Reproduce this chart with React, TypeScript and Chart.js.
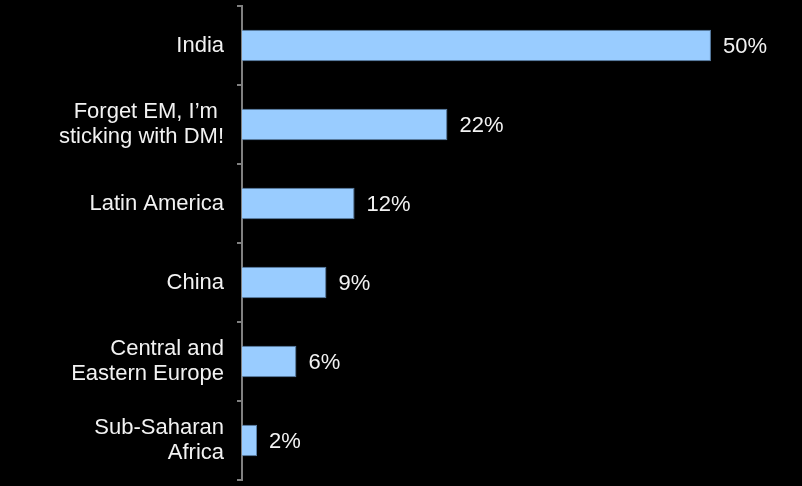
import React, { useEffect, useRef } from "react";
import { Chart, registerables } from "chart.js";

Chart.register(...registerables);

const categories: (string | string[])[] = [
  "India",
  ["Forget EM, I\u2019m ", "sticking with DM!"],
  "Latin America",
  "China",
  ["Central and", "Eastern Europe"],
  ["Sub-Saharan", "Africa"],
];
const values: number[] = [50, 21.9, 12, 9, 5.8, 1.6];
const valueLabels: string[] = ["50%", "22%", "12%", "9%", "6%", "2%"];

const FONT = "'Liberation Sans', Arial, sans-serif";
const TEXT = "#f2f2f2";

const valueLabelPlugin = {
  id: "valueLabels",
  afterDatasetsDraw(chart: any) {
    const ctx = chart.ctx;
    const meta = chart.getDatasetMeta(0);
    ctx.save();
    ctx.font = `22px ${FONT}`;
    ctx.fillStyle = TEXT;
    ctx.textAlign = "left";
    ctx.textBaseline = "middle";
    meta.data.forEach((bar: any, i: number) => {
      ctx.fillText(valueLabels[i], bar.x + 12, bar.y + 1);
    });
    ctx.restore();
  },
};

export default function App() {
  const ref = useRef<HTMLCanvasElement | null>(null);
  useEffect(() => {
    document.body.style.margin = "0";
    document.body.style.background = "#000";
    const chart = new Chart(ref.current!, {
      type: "bar",
      data: {
        labels: categories,
        datasets: [
          {
            data: values,
            backgroundColor: "#99ccff",
            borderColor: "#5a7fa6",
            borderWidth: 1,
            barPercentage: 0.4,
            categoryPercentage: 1,
          },
        ],
      },
      options: {
        indexAxis: "y",
        responsive: false,
        animation: false,
        layout: { padding: { top: 6, bottom: 6, left: 0, right: 16 } },
        plugins: {
          legend: { display: false },
          tooltip: { enabled: false },
        },
        scales: {
          x: { display: false, min: 0, max: 58 },
          y: {
            afterFit: (scale: any) => {
              scale.width = 242;
              scale.paddingTop = 0;
              scale.paddingBottom = 0;
            },
            grid: {
              display: true,
              drawOnChartArea: false,
              drawTicks: true,
              tickLength: 5,
              color: "#808080",
              lineWidth: 2,
              offset: true,
            },
            border: { display: true, color: "#808080", width: 2 },
            ticks: {
              color: TEXT,
              padding: 13,
              font: { family: FONT, size: 22, lineHeight: 1.13 },
            },
          },
        },
      },
      plugins: [valueLabelPlugin],
    });
    return () => chart.destroy();
  }, []);
  return (
    <div style={{ position: "fixed", left: 0, top: 0, width: 802, height: 486, background: "#000" }}>
      <canvas ref={ref} width={802} height={486} />
    </div>
  );
}
